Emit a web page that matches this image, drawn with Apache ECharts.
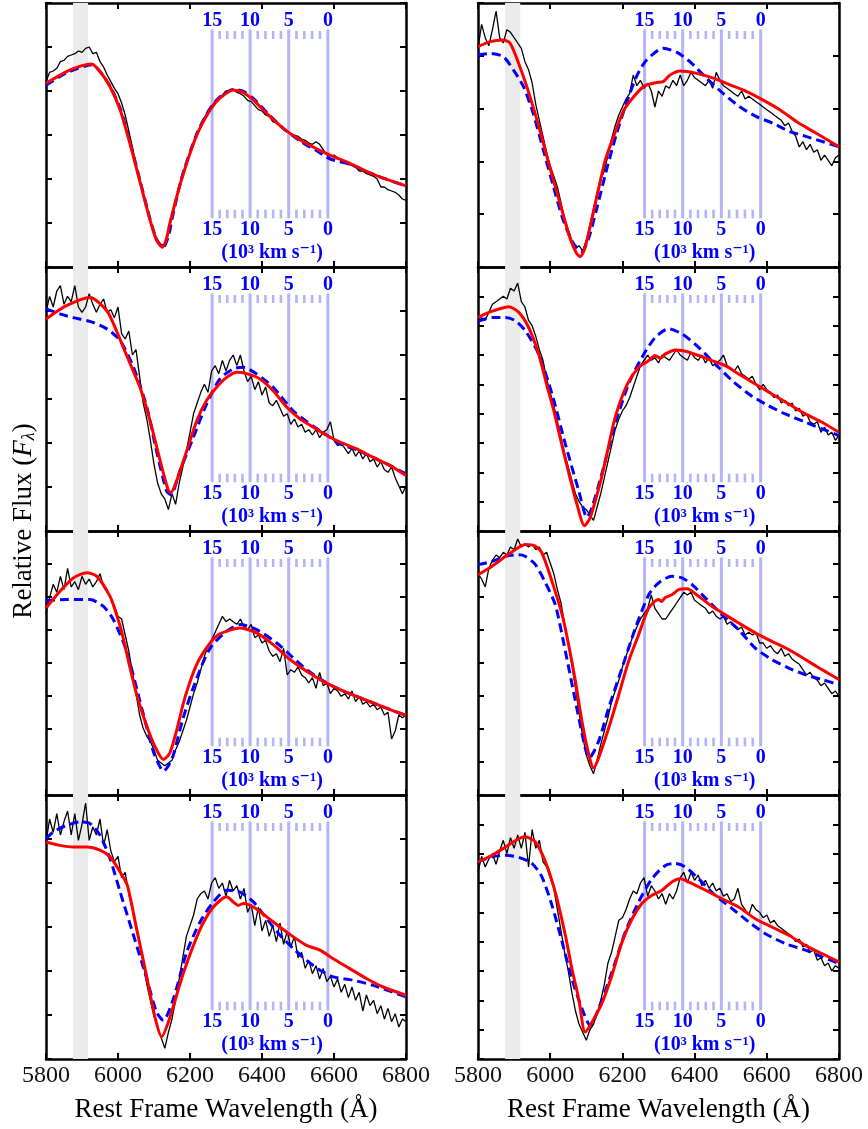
<!DOCTYPE html>
<html><head><meta charset="utf-8">
<script src="https://cdn.jsdelivr.net/npm/echarts/dist/echarts.min.js"></script>
<style>html,body{margin:0;padding:0;background:#fff}#c{width:868px;height:1129px}</style>
</head><body><div id="c"></div>
<script>
// ---------- DATA ----------
const xTickValues = [5800, 6000, 6200, 6400, 6600, 6800];
const sodiumBand = [5875, 5917];
const velocityMajor = [15, 10, 5, 0];          // 10^3 km/s
const velocityMinor = [1, 2, 3, 4, 6, 7, 8, 9, 11, 12, 13, 14];
const velocityRestWave = 6583;
const velocityUnit = '(10³ km s⁻¹)';
const velocityUnitWave = 6428;
const panelTicks = [6, 5, 6, 9, 8, 8, 6, 9]; // L1,R1,L2,R2,L3,R3,L4,R4

const wavelengths = [5800,5810,5820,5830,5840,5850,5860,5870,5880,5890,
5900,5910,5920,5930,5940,5950,5960,5970,5980,5990,
6000,6010,6020,6030,6040,6050,6060,6070,6080,6090,
6100,6110,6120,6130,6140,6150,6160,6170,6180,6190,
6200,6210,6220,6230,6240,6250,6260,6270,6280,6290,
6300,6310,6320,6330,6340,6350,6360,6370,6380,6390,
6400,6410,6420,6430,6440,6450,6460,6470,6480,6490,
6500,6510,6520,6530,6540,6550,6560,6570,6580,6590,
6600,6610,6620,6630,6640,6650,6660,6670,6680,6690,
6700,6710,6720,6730,6740,6750,6760,6770,6780,6790,6800];

const L1_black = [69.5,73,73.5,74.5,77,77.5,79,79.5,80,81,
80.5,82,82.5,80,80.5,77,75,72,69.5,67,
65,61.5,57,51,45,38.5,33,27,22,17,
13,10,8.5,8,13,19,25,30,35,39,
43,47,50,53,56,58.5,60.5,62,63.5,64.5,
66,66,66.5,65.5,65,64,62.5,62,60.5,59,
58.5,57,56.5,54.5,54,53,51.5,51,50,49.5,
49,48,47.5,46.5,46,47,46,44,42,41.5,
42,41,40,39.5,38.5,38,37.5,36,36,35,
34.5,34,33,30,30,29,28.5,28,27,25.5,25];
const L1_red = [[5800,68.9],[5857,73.3],[5900,75.5],[5927,76.1],[5950,73.3],[5978,67.6],[6006,58.9],[6033,46.4],[6061,32],[6089,17.6],[6107,10.1],[6123,7.4],[6135,10.8],[6144,16.4],[6177,33],[6219,49.5],[6256,58.9],[6283,63.3],[6320,66.4],[6348,65.4],[6376,62.6],[6413,57.6],[6459,52],[6506,47.6],[6552,44.3],[6598,41.4],[6644,38.9],[6691,35.8],[6737,33.3],[6800,30.4]];
const L1_blue = [[5800,68.2],[5857,72.8],[5927,75.8],[5950,73.3],[5978,67.8],[6006,59.5],[6033,47],[6061,32.5],[6089,18],[6107,10.5],[6125,7.2],[6140,11.5],[6150,18],[6177,33.5],[6219,50],[6256,59.5],[6283,63.8],[6320,66.6],[6350,65.8],[6376,63.2],[6413,58],[6459,52],[6506,47.2],[6552,43.6],[6590,40.5],[6644,38.5],[6691,35.8],[6737,33.3],[6800,30.4]];

const R1_black = [82,91,86,83,89,96,86,84,89,88,
86,84,82,77,74,69,61,55,49,43,
38,34,30,24,18,14,10,7,8,6,
10,16,22,28,33,36,42,48,53,57,
60,63,65,72,68,70,67,69,66,60,
66,64,68,67,70,68,72,68,70,73,
71,70,69,68,70,67,73,70,68,67,
66,65,64,66,63,64,63,62,61,60,
59,58,57,56,55,53,54,51,49,45,
47,44,46,43,44,40,42,40,38,41,42];
const R1_red = [[5800,82.6],[5833,84.5],[5870,85.1],[5889,83.9],[5916,75.1],[5944,63.9],[5972,51],[5994,39.8],[6035,20.1],[6055,10.8],[6073,5.1],[6083,3.9],[6096,7],[6119,20.1],[6152,39.8],[6180,50.5],[6207,59.5],[6258,67.6],[6295,69.2],[6313,69.5],[6332,72],[6360,73.5],[6406,72.6],[6452,70.8],[6498,68.3],[6544,65.8],[6590,62.6],[6637,58.9],[6683,54.5],[6729,50.8],[6800,45.1]];
const R1_blue = [[5800,79.5],[5833,80.1],[5870,78.9],[5898,73.9],[5926,67.6],[5953,57.6],[5981,43.9],[6009,30.1],[6036,17.6],[6064,8.9],[6087,5.8],[6105,10.1],[6128,21.4],[6156,36.4],[6184,50.1],[6211,61.4],[6239,71.4],[6267,77.6],[6313,82],[6350,80.6],[6387,77],[6433,70.8],[6479,65.1],[6525,60.1],[6571,56.4],[6617,53.9],[6664,50.8],[6710,48.9],[6800,45.1]];

const L2_black = [82,88,84,90,92,85,88,86,92,84,
82,84,89,85,82,85,87,82,83,80,
84,74,72,75,66,68,58,48,42,34,
25,18,14,12,8,14,10,18,24,30,
37,44,48,52,55,52,60,62,59,64,
60,64,66,62,66,60,56,58,53,56,
51,54,48,47,49,46,43,44,40,42,
39,40,37,38,36,38,35,37,38,41,
34,32,33,31,29,31,28,30,27,29,
26,27,24,26,23,22,24,20,17,14,17];
const L2_red = [[5800,79.5],[5857,84.5],[5922,87.6],[5969,82.6],[5996,75],[6024,65.8],[6061,53.9],[6089,41.4],[6117,26.4],[6140,15.1],[6147,14.5],[6163,18.9],[6191,30.1],[6219,41.4],[6246,48.9],[6274,53.9],[6302,57.6],[6330,59.5],[6357,59],[6394,57],[6431,52.6],[6469,46.4],[6506,42],[6543,38.9],[6580,35.8],[6617,33.3],[6663,30.8],[6709,27.6],[6756,24.5],[6800,20.8]];
const L2_blue = [[5800,83.3],[5839,81.4],[5876,80],[5922,78.6],[5969,75.8],[6006,71.4],[6043,61.4],[6080,46.4],[6107,30],[6135,15],[6147,13.6],[6172,22.6],[6209,35],[6246,47.6],[6283,57],[6320,60.8],[6348,61.4],[6385,58.9],[6431,53.9],[6487,45],[6543,39.2],[6580,36],[6617,32.6],[6663,30.5],[6709,27.5],[6756,24.5],[6800,21.4]];

const R2_black = [78,80,79,82,85,86,87,88,87,91,
90,93,86,84,79,77,73,68,64,57,
52,47,41,35,29,24,19,14,11,9,
8,6,4,9,14,20,26,32,38,42,
45,47,50,54,58,62,64,66,64,65,
63,66,65,64,66,68,66,65,64,67,
65,64,66,63,65,62,63,64,66,62,
61,60,62,59,58,57,58,55,53,55,
53,52,50,51,48,49,47,48,45,46,
43,44,41,40,41,37,39,36,37,34,36];
const R2_red = [[5800,80.1],[5830,82],[5876,83.9],[5885,84.1],[5913,82],[5940,76.4],[5968,66.4],[5992,54],[6010,45.1],[6025,36.4],[6051,22],[6074,10.1],[6095,2],[6111,5.1],[6139,18.3],[6157,28.9],[6180,42.6],[6213,54.9],[6245,61.4],[6273,63.9],[6290,65.8],[6305,64.8],[6319,66.4],[6347,67.9],[6374,67.4],[6411,65.8],[6448,63.9],[6485,62],[6522,58.9],[6568,55.1],[6614,51.4],[6661,47.6],[6707,43.9],[6753,40.8],[6800,37]];
const R2_blue = [[5800,78.6],[5839,80.1],[5876,80.1],[5903,78.9],[5931,75.1],[5968,66.4],[6005,51.4],[6042,32.6],[6079,15.1],[6102,5.1],[6116,8.9],[6143,21.4],[6180,40.1],[6217,55.1],[6254,65.1],[6291,72.6],[6328,75.8],[6365,73.9],[6411,68.9],[6457,62.6],[6504,56.4],[6550,51.4],[6596,47.6],[6651,43.9],[6707,40.8],[6753,38.3],[6800,35.8]];

const L3_black = [68,74,79,76,82,77,85,78,80,77,
82,79,81,78,80,83,78,76,74,71,
67,66,60,54,46,38,30,25,22,20,
17,13,12,11,12,13,17,20,24,28,
33,38,42,47,52,56,58,61,64,67,
65,66,65,64,66,63,62,64,59,60,
57,58,54,52,53,50,55,45,47,46,
48,45,44,42,44,40,46,41,42,38,
40,39,37,38,36,39,35,37,34,35,
33,34,32,33,30,31,21,24,30,29,30];
const L3_red = [[5800,70.1],[5839,76.4],[5876,81.4],[5913,83.3],[5941,82],[5978,74.5],[5996,67.6],[6010,61.4],[6031,49.1],[6054,36.6],[6084,24.3],[6107,17],[6126,13.3],[6144,15.8],[6163,24.3],[6186,36.6],[6219,49.1],[6256,57],[6283,60.4],[6339,62.6],[6385,60.8],[6431,56.4],[6478,50.8],[6524,46.4],[6570,42.6],[6617,39.5],[6663,37],[6709,34.5],[6756,32],[6800,29.9]];
const L3_blue = [[5800,72.9],[5860,73.3],[5922,73.3],[5959,70.8],[5987,65.8],[6024,53.9],[6061,35.1],[6098,16.4],[6115,11],[6126,8.9],[6140,11],[6154,15.1],[6181,28.9],[6219,43.9],[6256,55.1],[6302,61.4],[6339,63.9],[6385,62],[6441,57],[6487,51.4],[6524,47],[6570,42.8],[6617,39.5],[6663,37],[6709,34.5],[6756,32],[6800,29.9]];

const R3_black = [83,81,78,85,88,90,89,91,90,93,
92,96,93,94,93,94,92,93,90,91,
87,83,77,72,64,57,49,40,31,22,
15,11,8,13,19,24,29,35,39,43,
48,52,56,60,63,66,68,70,75,70,
68,66,66,68,70,72,74,76,75,76,
73,72,71,70,68,69,67,66,67,64,
65,63,62,63,60,61,60,61,57,57,
55,56,54,53,55,52,53,51,50,49,
47,45,46,44,43,41,42,40,38,39,37];
const R3_red = [[5800,82.6],[5839,85.8],[5876,89.5],[5903,92],[5931,93.9],[5959,93.3],[5977,90.8],[6005,80.1],[6033,67.6],[6051,56.4],[6070,42.6],[6088,27.6],[6107,15.1],[6120,10.1],[6134,13.9],[6162,25.1],[6190,37.6],[6217,50.1],[6245,60.1],[6273,70.1],[6300,73.3],[6309,72.6],[6318,74],[6337,75.1],[6356,77],[6379,77.3],[6411,74.5],[6448,70.8],[6485,67.6],[6522,64.5],[6568,60.8],[6614,57.6],[6661,54.5],[6707,50.8],[6753,47],[6800,43.3]];
const R3_blue = [[5800,86.4],[5839,87.6],[5876,89.5],[5913,90.1],[5931,89.5],[5959,86.4],[5987,79.5],[6014,71.4],[6042,53.9],[6070,35.1],[6097,17.6],[6108,13.9],[6134,20.1],[6162,32.6],[6199,47.6],[6236,62.6],[6273,75.1],[6300,79.5],[6337,82],[6365,81.4],[6393,78.9],[6430,73.9],[6476,67.6],[6522,62],[6568,55.1],[6614,50.8],[6661,47.6],[6707,45.1],[6753,43.3],[6800,41.4]];

const L4_black = [81,90,85,92,84,89,93,84,92,82,
88,96,82,87,84,90,80,86,78,74,
76,68,70,62,56,50,44,36,28,22,
16,12,8,4,10,15,22,30,38,46,
50,54,60,62,63,60,66,68,64,66,
61,67,63,65,60,64,55,58,50,57,
48,52,46,50,44,51,43,48,42,46,
38,40,34,37,32,35,30,34,29,31,
27,30,25,28,23,27,22,25,18,24,
20,22,17,20,15,19,14,17,12,15,14];
const L4_red = [[5800,81.4],[5839,80.1],[5876,79.5],[5913,79.5],[5950,78.3],[5978,75.8],[6006,70.1],[6026,65.1],[6052,48.6],[6078,32],[6103,15.5],[6121,8.3],[6144,15.5],[6181,32],[6228,48.6],[6265,57],[6302,60.8],[6320,58.9],[6334,57.6],[6348,58.3],[6376,57],[6413,53.3],[6450,49.5],[6487,45.8],[6524,42.6],[6561,40.8],[6598,37.6],[6644,33.9],[6691,30.1],[6737,27],[6800,23.9]];
const L4_blue = [[5800,82.6],[5820,85.1],[5857,87.6],[5894,88.9],[5922,88.3],[5950,83.9],[5978,75.1],[6006,62.6],[6043,46.4],[6080,30.1],[6107,17.6],[6126,14.5],[6154,22.6],[6191,40.1],[6228,51.4],[6265,58.9],[6302,63.3],[6339,62.6],[6376,58.9],[6413,52.6],[6450,46.4],[6487,41.4],[6524,37],[6561,33.3],[6598,30.8],[6654,29.5],[6709,27.6],[6800,23.3]];

const R4_black = [70,76,72,75,77,73,78,82,77,83,
79,84,79,85,72,86,79,82,74,72,
68,64,56,48,40,33,25,18,13,10,
7,11,13,17,22,28,36,40,46,52,
53,56,60,63,62,66,68,61,65,63,
60,62,58,62,60,63,68,70,66,70,
67,69,65,67,64,66,63,64,61,62,
59,60,64,58,56,54,58,56,55,53,
54,51,52,50,49,48,47,46,44,45,
42,43,40,41,37,38,35,36,33,35,34];
const R4_red = [[5800,73.9],[5839,76.4],[5876,79.5],[5913,82.6],[5931,83.3],[5959,81.4],[5987,73.9],[6014,62.6],[6042,46.4],[6060,33.9],[6079,22.6],[6097,10.1],[6116,13.9],[6143,20.8],[6171,31.4],[6199,43.9],[6227,52.6],[6254,58.3],[6282,61.4],[6310,63.3],[6337,66.4],[6360,67.6],[6393,65.8],[6430,63.3],[6476,60.1],[6522,57],[6568,52.6],[6614,49.5],[6661,46.4],[6707,42.6],[6753,39.5],[6800,36.4]];
const R4_blue = [[5800,73.9],[5839,75.8],[5876,76.4],[5913,75.6],[5950,73.3],[5977,68.3],[6005,57.6],[6033,43.9],[6060,30.1],[6088,18.9],[6111,12.6],[6134,18.9],[6171,32.6],[6208,47.6],[6245,58.9],[6282,67.6],[6319,72.6],[6347,73.3],[6374,72],[6411,67.6],[6457,61.4],[6504,56.4],[6550,51.4],[6596,47],[6651,43.3],[6707,40.8],[6753,38.3],[6800,35.8]];

const panelBlack = [L1_black, R1_black, L2_black, R2_black, L3_black, R3_black, L4_black, R4_black];
const panelRed = [L1_red, R1_red, L2_red, R2_red, L3_red, R3_red, L4_red, R4_red];
const panelBlue = [L1_blue, R1_blue, L2_blue, R2_blue, L3_blue, R3_blue, L4_blue, R4_blue];

// ---------- LAYOUT / STYLE ----------
const FONT = '"Liberation Serif", "DejaVu Serif", serif';
const VEL_COLOR = '#b4b4f6';
const VEL_TEXT = '#0000ff';
const colLeft = [46, 478], colWidth = [360, 361];
const rowTop = [3, 267, 531, 795], rowHeight = 264;
const yMax = 99;
const velLineY = [18.25, 89.1];
const velMinorTopY = [85.5, 88.5];
const velMinorBotY = [18.25, 21.5];
const velTopLabelY = 92.25, velBotLabelY = 13.9, velUnitY = 5.5;

function velToWave(v) {
  const b = v * 1000 / 299792.458;
  return velocityRestWave * Math.sqrt((1 - b) / (1 + b));
}

const grids = [], xAxes = [], yAxes = [], series = [];
const axisLine = {show: true, onZero: false, lineStyle: {color: '#000', width: 2.5}};
const axisTick = {show: true, inside: true, length: 6, lineStyle: {color: '#000', width: 2}};

panelBlack.forEach((blk, i) => {
  const row = Math.floor(i / 2), col = i % 2;
  const isBottom = row === 3;
  grids.push({left: colLeft[col], top: rowTop[row], width: colWidth[col], height: rowHeight,
    containLabel: false, outerBoundsMode: 'none', show: false});
  xAxes.push({type: 'value', gridIndex: i, position: 'bottom', min: xTickValues[0], max: xTickValues[xTickValues.length - 1],
    interval: 200, axisLine, axisTick, splitLine: {show: false},
    axisLabel: {show: isBottom, margin: 5, fontFamily: FONT, fontSize: 24, color: '#111',
      showMinLabel: true, showMaxLabel: true, formatter: v => String(v)},
    name: isBottom ? 'Rest Frame Wavelength (Å)' : '', nameLocation: 'middle', nameGap: 37,
    nameTextStyle: {fontFamily: FONT, fontSize: 27, color: '#000'}});
  xAxes.push({type: 'value', gridIndex: i, position: 'top', min: 5800, max: 6800, interval: 200,
    axisLine, axisTick, splitLine: {show: false}, axisLabel: {show: false}});
  const iv = yMax / panelTicks[i];
  yAxes.push({type: 'value', gridIndex: i, position: 'left', min: 0, max: yMax, interval: iv,
    axisLine, axisTick, axisLabel: {show: false}, splitLine: {show: false}});
  yAxes.push({type: 'value', gridIndex: i, position: 'right', min: 0, max: yMax, interval: iv,
    axisLine, axisTick, axisLabel: {show: false}, splitLine: {show: false}});

  const xi = 2 * i, yi = 2 * i;
  // gray band
  series.push({type: 'custom', xAxisIndex: xi, yAxisIndex: yi, z: 1, silent: true, clip: true,
    data: [[sodiumBand[0], 0, sodiumBand[1]]],
    renderItem: (p, api) => {
      const a = api.coord([api.value(0), yMax]);
      const b = api.coord([api.value(2), 0]);
      return {type: 'rect', shape: {x: a[0], y: a[1], width: b[0] - a[0], height: b[1] - a[1]}, style: {fill: '#ebebeb'}};
    }});
  // velocity lines
  const velData = [];
  velocityMajor.forEach(v => velData.push([velToWave(v), velLineY[0], velLineY[1], 3]));
  velocityMinor.forEach(v => {
    velData.push([velToWave(v), velMinorTopY[0], velMinorTopY[1], 2.6]);
    velData.push([velToWave(v), velMinorBotY[0], velMinorBotY[1], 2.6]);
  });
  series.push({type: 'custom', xAxisIndex: xi, yAxisIndex: yi, z: 2, silent: true,
    data: velData,
    renderItem: (p, api) => {
      const a = api.coord([api.value(0), api.value(1)]);
      const b = api.coord([api.value(0), api.value(2)]);
      return {type: 'line', shape: {x1: a[0], y1: a[1], x2: b[0], y2: b[1]},
        style: {stroke: VEL_COLOR, lineWidth: api.value(3)}};
    }});
  // velocity labels
  const labTexts = [], labData = [];
  velocityMajor.forEach(v => { labTexts.push(String(v)); labData.push([velToWave(v), velTopLabelY]); });
  velocityMajor.forEach(v => { labTexts.push(String(v)); labData.push([velToWave(v), velBotLabelY]); });
  labTexts.push(velocityUnit); labData.push([velocityUnitWave, velUnitY]);
  series.push({type: 'custom', xAxisIndex: xi, yAxisIndex: yi, z: 3, silent: true,
    data: labData,
    renderItem: (p, api) => {
      const a = api.coord([api.value(0), api.value(1)]);
      return {type: 'text', x: a[0], y: a[1],
        style: {text: labTexts[p.dataIndex], fill: VEL_TEXT, fontFamily: FONT, fontWeight: 'bold', fontSize: 20,
          align: 'center', verticalAlign: 'middle'}};
    }});
  // spectrum
  series.push({type: 'line', xAxisIndex: xi, yAxisIndex: yi, z: 4, silent: true,
    data: wavelengths.map((w, k) => [w, blk[k]]), showSymbol: false, symbol: 'none',
    lineStyle: {color: '#000', width: 1.3}});
  series.push({type: 'line', xAxisIndex: xi, yAxisIndex: yi, z: 5, silent: true,
    data: panelBlue[i], showSymbol: false, symbol: 'none', smooth: 0.25,
    lineStyle: {color: '#0000ff', width: 3, type: [9, 5]}});
  series.push({type: 'line', xAxisIndex: xi, yAxisIndex: yi, z: 6, silent: true,
    data: panelRed[i], showSymbol: false, symbol: 'none', smooth: 0.25,
    lineStyle: {color: '#ff0000', width: 3}});
});

const chart = echarts.init(document.getElementById('c'), null, {renderer: 'canvas'});
chart.setOption({
  animation: false,
  backgroundColor: '#fff',
  grid: grids, xAxis: xAxes, yAxis: yAxes, series: series,
  graphic: [{
    type: 'text', x: 24, y: 521, rotation: Math.PI / 2, silent: true,
    style: {
      text: 'Relative Flux ({i|F}{s|λ})', fill: '#000', fontFamily: FONT, fontSize: 27,
      align: 'center', verticalAlign: 'middle',
      rich: {
        i: {fontFamily: FONT, fontSize: 27, fontStyle: 'italic', fill: '#000'},
        s: {fontFamily: FONT, fontSize: 18, fontStyle: 'italic', fill: '#000', verticalAlign: 'bottom', padding: [10, 0, 0, 0]}
      }
    }
  }]
});
</script>
</body></html>
